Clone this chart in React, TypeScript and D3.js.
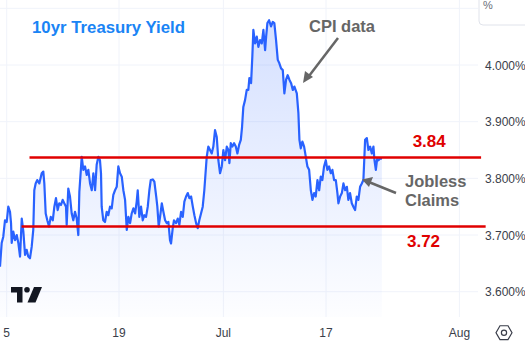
import React from "react"
import * as d3 from "d3"

const W = 525
const H = 353

// trading sessions since Jun 5 (fractional) and 10yr yield (%)
const sessions = [
  -0.59, -0.44, -0.3, -0.15, 0, 0.14, 0.29, 0.38, 0.44, 0.58, 0.73, 0.88, 1.02, 1.17, 1.32, 1.46, 1.61, 1.75, 1.89, 2.04,
  2.19, 2.33, 2.42, 2.54, 2.68, 2.86, 3.07, 3.21, 3.3, 3.42, 3.56, 3.71, 3.86, 4.04, 4.18, 4.32, 4.47, 4.61, 4.76, 4.91,
  5.05, 5.2, 5.26, 5.4, 5.55, 5.7, 5.84, 5.99, 6.14, 6.28, 6.37, 6.58, 6.72, 6.87, 7.02, 7.16, 7.31, 7.46, 7.6, 7.75,
  7.89, 8.04, 8.18, 8.27, 8.33, 8.47, 8.62, 8.77, 8.91, 9.06, 9.21, 9.35, 9.5, 9.65, 9.79, 9.94, 10.09, 10.23, 10.38, 10.53,
  10.67, 10.82, 10.96, 11.11, 11.26, 11.4, 11.49, 11.63, 11.78, 11.93, 12.07, 12.22, 12.37, 12.51, 12.63, 12.81, 12.95, 13.11, 13.21, 13.33,
  13.45, 13.6, 13.74, 13.89, 14.04, 14.18, 14.32, 14.41, 14.56, 14.67, 14.85, 15.0, 15.14, 15.29, 15.44, 15.58, 15.73, 15.88, 16.02, 16.17,
  16.32, 16.46, 16.61, 16.75, 16.89, 17.04, 17.19, 17.33, 17.54, 17.68, 17.83, 17.98, 18.12, 18.27, 18.42, 18.56, 18.71, 18.86, 19.0, 19.15,
  19.3, 19.44, 19.53, 19.65, 19.79, 19.94, 20.09, 20.23, 20.38, 20.53, 20.64, 20.75, 20.9, 21.05, 21.19, 21.28, 21.43, 21.54, 21.63, 21.78,
  21.93, 22.07, 22.22, 22.37, 22.51, 22.66, 22.75, 22.86, 23.01, 23.18, 23.33, 23.47, 23.62, 23.77, 23.91, 24.06, 24.21, 24.35, 24.5, 24.64,
  24.79, 24.94, 25.09, 25.23, 25.44, 25.58, 25.67, 25.79, 25.93, 26.08, 26.23, 26.37, 26.52, 26.67, 26.81, 26.96, 27.1, 27.25, 27.4, 27.54,
  27.68, 27.83, 27.98, 28.12, 28.27, 28.42, 28.56, 28.71, 28.86, 29.0, 29.09, 29.24, 29.39, 29.53, 29.68, 29.83, 29.96, 30.11, 30.26, 30.4,
  30.55, 30.7, 30.84, 30.99, 31.14, 31.28, 31.43, 31.58, 31.72, 31.87, 32.02, 32.16, 32.25, 32.37, 32.49, 32.6, 32.75, 32.9,
]
const yields = [
  3.644, 3.686, 3.697, 3.726, 3.723, 3.75, 3.741, 3.721, 3.686, 3.706, 3.691, 3.7, 3.686, 3.662, 3.729, 3.706, 3.665, 3.674, 3.662, 3.659,
  3.679, 3.709, 3.779, 3.791, 3.797, 3.791, 3.809, 3.812, 3.791, 3.738, 3.726, 3.715, 3.732, 3.726, 3.75, 3.765, 3.744, 3.756, 3.753, 3.762,
  3.756, 3.75, 3.718, 3.782, 3.768, 3.738, 3.726, 3.741, 3.729, 3.7, 3.776, 3.838, 3.815, 3.821, 3.806, 3.815, 3.791, 3.779, 3.809, 3.779,
  3.824, 3.838, 3.832, 3.809, 3.75, 3.726, 3.723, 3.741, 3.735, 3.75, 3.747, 3.771, 3.779, 3.785, 3.821, 3.809, 3.803, 3.779, 3.762, 3.709,
  3.732, 3.721, 3.738, 3.747, 3.738, 3.759, 3.779, 3.732, 3.75, 3.726, 3.735, 3.732, 3.75, 3.779, 3.797, 3.798, 3.794, 3.768, 3.75, 3.715,
  3.732, 3.756, 3.741, 3.726, 3.721, 3.723, 3.691, 3.685, 3.712, 3.726, 3.721, 3.729, 3.718, 3.741, 3.732, 3.759, 3.768, 3.774, 3.765, 3.768,
  3.75, 3.735, 3.721, 3.712, 3.726, 3.738, 3.75, 3.779, 3.838, 3.856, 3.85, 3.844, 3.856, 3.885, 3.873, 3.832, 3.809, 3.821, 3.85, 3.832,
  3.856, 3.85, 3.827, 3.862, 3.856, 3.862, 3.856, 3.844, 3.859, 3.868, 3.891, 3.926, 3.938, 3.956, 3.956, 3.977, 3.968, 4.015, 4.062, 4.038,
  4.05, 4.032, 4.044, 4.038, 4.062, 4.026, 4.05, 4.074, 4.079, 4.068, 4.076, 4.074, 4.044, 4.009, 4.003, 3.994, 3.991, 3.95, 3.974, 3.982,
  3.974, 3.968, 3.956, 3.962, 3.95, 3.915, 3.868, 3.853, 3.865, 3.856, 3.838, 3.821, 3.815, 3.779, 3.762, 3.774, 3.768, 3.797, 3.779, 3.803,
  3.797, 3.821, 3.832, 3.815, 3.821, 3.809, 3.815, 3.797, 3.797, 3.774, 3.756, 3.768, 3.774, 3.791, 3.779, 3.785, 3.762, 3.774, 3.756, 3.75,
  3.744, 3.768, 3.762, 3.785, 3.791, 3.797, 3.868, 3.871, 3.85, 3.856, 3.844, 3.856, 3.832, 3.815, 3.835, 3.832, 3.835, 3.834,
]

const yTicks = [3.6, 3.7, 3.8, 3.9, 4.0, 4.1]
const xTickLabels = ["5", "19", "Jul", "17", "Aug"]
const xTickSessions = [0, 9.85, 19, 28, 39.7]

// horizontal levels drawn on the chart
const levels = [
  { value: 3.837, label: "3.84", from: 2.0, to: 41.6, labelAt: 35.6, below: false },
  { value: 3.715, label: "3.72", from: 1.3, to: 42.0, labelAt: 35.1, below: true },
]

const FONT = "'Liberation Sans', Arial, sans-serif"

export default function App() {
  const x = d3.scaleLinear().domain([0, 28]).range([6.7, 326])
  const y = d3.scaleLinear().domain([3.6, 4.0]).range([291.7, 65])
  const plotBottom = 317
  const plotRight = 478

  const pts = sessions.map((s, i) => [Math.max(0, x(s)), y(yields[i])] as [number, number])
  const line = d3.line<[number, number]>().x(d => d[0]).y(d => d[1])
  const area = d3
    .area<[number, number]>()
    .x(d => d[0])
    .y0(plotBottom)
    .y1(d => d[1])

  const hex = d3.range(6).map(i => {
    const a = (Math.PI / 3) * i
    return [504 + 8 * Math.cos(a), 332.7 + 8 * Math.sin(a)]
  })

  return (
    <svg
      width={W}
      height={H}
      style={{ position: "absolute", left: 0, top: 0, background: "#fff" }}
      fontFamily={FONT}
    >
      <defs>
        <linearGradient id="fillGrad" gradientUnits="userSpaceOnUse" x1={0} y1={18} x2={0} y2={plotBottom}>
          <stop offset="0%" stopColor="#2962ff" stopOpacity={0.2} />
          <stop offset="100%" stopColor="#2962ff" stopOpacity={0.01} />
        </linearGradient>
      </defs>

      {/* grid */}
      {yTicks.map(t => (
        <line key={t} x1={0} x2={plotRight} y1={y(t)} y2={y(t)} stroke="#f0f3fa" strokeWidth={1} />
      ))}
      {xTickSessions.map(t => (
        <line key={t} x1={x(t)} x2={x(t)} y1={0} y2={plotBottom} stroke="#f0f3fa" strokeWidth={1} />
      ))}

      {/* series */}
      <path d={area(pts) || ""} fill="url(#fillGrad)" />
      <path d={line(pts) || ""} fill="none" stroke="#2962ff" strokeWidth={2.2} strokeLinejoin="round" />

      {/* levels */}
      {levels.map(l => (
        <g key={l.label}>
          <line x1={x(l.from)} x2={x(l.to)} y1={y(l.value)} y2={y(l.value)} stroke="#e00000" strokeWidth={2.5} />
          <text
            x={x(l.labelAt)}
            y={l.below ? y(l.value) + 20 : y(l.value) - 10}
            fontSize={17}
            fontWeight="bold"
            fill="#e00000"
          >
            {l.label}
          </text>
        </g>
      ))}

      {/* title and notes */}
      <text x={32} y={33} fontSize={16.8} fontWeight="bold" fill="#1a84f5">
        10yr Treasury Yield
      </text>
      <text x={309} y={32} fontSize={16.5} fontWeight="bold" fill="#666">
        CPI data
      </text>
      <line x1={338} y1={38} x2={309} y2={76} stroke="#666" strokeWidth={2.5} />
      <path d="M303,83 L305,71 L313,77 Z" fill="#666" />
      <text x={405} y={187} fontSize={16.5} fontWeight="bold" fill="#666">
        Jobless
      </text>
      <text x={405} y={206} fontSize={16.5} fontWeight="bold" fill="#666">
        Claims
      </text>
      <line x1={396} y1={193} x2={370} y2={182.5} stroke="#666" strokeWidth={2.5} />
      <path d="M362,179.5 L373,177 L369,187 Z" fill="#666" />

      {/* right axis */}
      {yTicks.filter(t => t < 4.05).map(t => (
        <text key={t} x={485} y={y(t) + 4.5} fontSize={12} fill="#3a3e4a">
          {t.toFixed(3)}%
        </text>
      ))}
      <rect x={479} y={-10} width={60} height={35} rx={4} fill="#fff" stroke="#e0e3eb" />
      <text x={483} y={9} fontSize={11} fill="#6a6d78">
        %
      </text>

      {/* bottom axis */}
      {xTickLabels.map((lab, i) => (
        <text key={lab} x={x(xTickSessions[i])} y={336.5} fontSize={12} fill="#3a3e4a" textAnchor="middle">
          {lab}
        </text>
      ))}

      {/* settings icon */}
      <polygon points={hex.map(p => p.join(",")).join(" ")} fill="none" stroke="#3a3e4a" strokeWidth={1.2} />
      <circle cx={504} cy={332.7} r={2.6} fill="none" stroke="#3a3e4a" strokeWidth={1.2} />

      {/* tradingview mark */}
      <g fill="#131722">
        <path d="M11,287 L22.5,287 L22.5,302.5 L17,302.5 L17,292.5 L11,292.5 Z" />
        <circle cx={27} cy={289.8} r={2.8} />
        <path d="M34,287 L42,287 L35.5,302.5 L27.5,302.5 Z" />
      </g>
    </svg>
  )
}
